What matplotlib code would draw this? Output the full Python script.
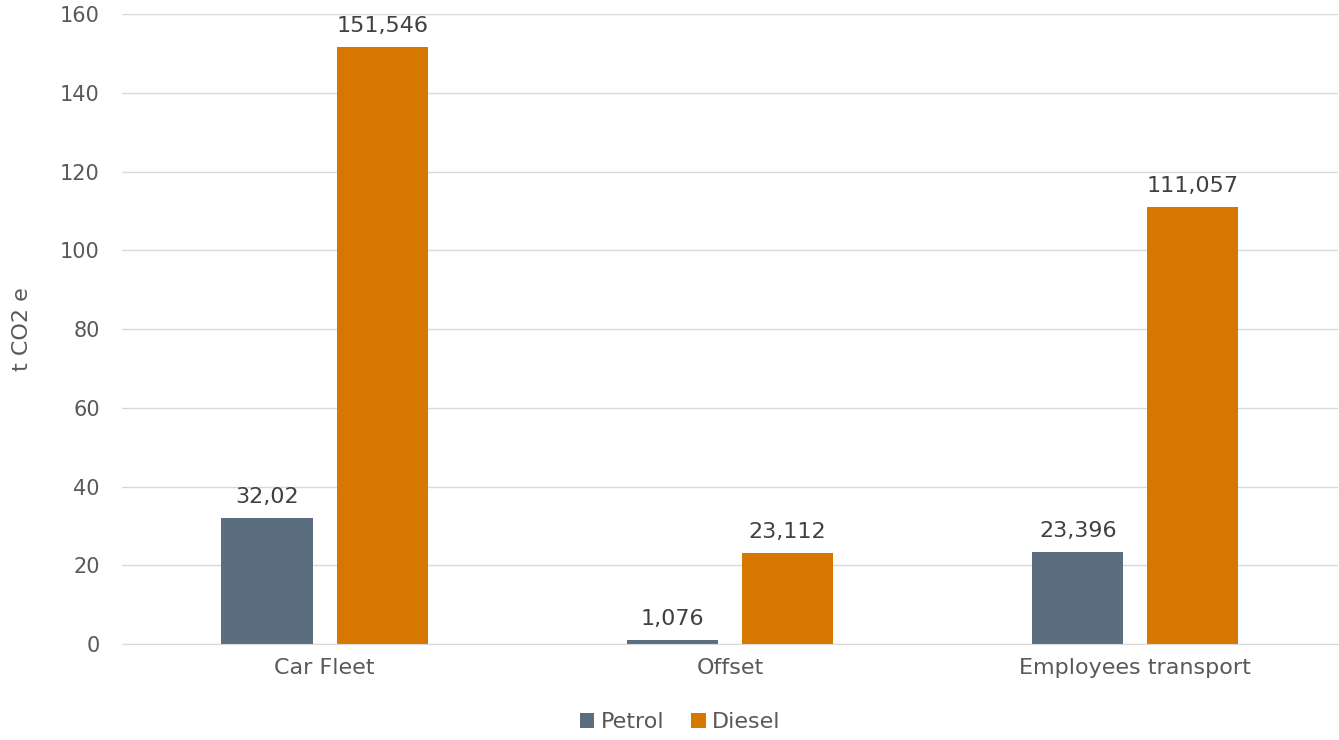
import matplotlib
matplotlib.use("Agg")
import matplotlib.pyplot as plt
import numpy as np

categories = ["Car Fleet", "Offset", "Employees transport"]
petrol = [32.02, 1.076, 23.396]
diesel = [151.546, 23.112, 111.057]
petrol_labels = ["32,02", "1,076", "23,396"]
diesel_labels = ["151,546", "23,112", "111,057"]
yticks = [0, 20, 40, 60, 80, 100, 120, 140, 160]

plt.rcParams['font.family'] = ['DejaVu Sans']
txt = "#595959"
fig = plt.figure(figsize=(13.39, 7.40), dpi=100)
ax = fig.add_axes([0.0911, 0.1297, 0.9081, 0.8513])

x = np.arange(len(categories))
w = 0.225
off = 0.142
b1 = ax.bar(x - off, petrol, w, color="#5B6E80", label="Petrol", zorder=3)
b2 = ax.bar(x + off, diesel, w, color="#D67800", label="Diesel", zorder=3)
for bars, labs in ((b1, petrol_labels), (b2, diesel_labels)):
    for r, l in zip(bars, labs):
        ax.annotate(l, (r.get_x() + r.get_width() / 2, r.get_height()),
                    xytext=(0, 8), textcoords="offset points", ha="center", va="bottom",
                    fontsize=16, color="#404040")

ax.set_xlim(-0.5, 2.5)
ax.set_ylim(0, 160)
ax.set_yticks(yticks)
ax.set_xticks(x)
ax.set_xticklabels(categories)
ax.tick_params(axis="x", length=0, labelsize=16, colors=txt, pad=10)
ax.tick_params(axis="y", length=0, labelsize=15, colors=txt, pad=16)
ax.yaxis.grid(True, color="#D9D9D9", linewidth=1, zorder=0)
for s in ["left", "right", "top"]:
    ax.spines[s].set_visible(False)
ax.spines["bottom"].set_color("#D9D9D9")
ax.spines["bottom"].set_zorder(4)
ax.set_ylabel("t CO2 e", fontsize=16, color=txt, labelpad=20)
leg = fig.legend(handles=[b1, b2], labels=["Petrol", "Diesel"], loc="center", bbox_to_anchor=(0.508, 0.024),
                 ncol=2, frameon=False, fontsize=16, handlelength=0.65, handleheight=0.65,
                 handletextpad=0.3, columnspacing=1.2)
for t in leg.get_texts():
    t.set_color(txt)
fig.savefig("out.png", dpi=100)
